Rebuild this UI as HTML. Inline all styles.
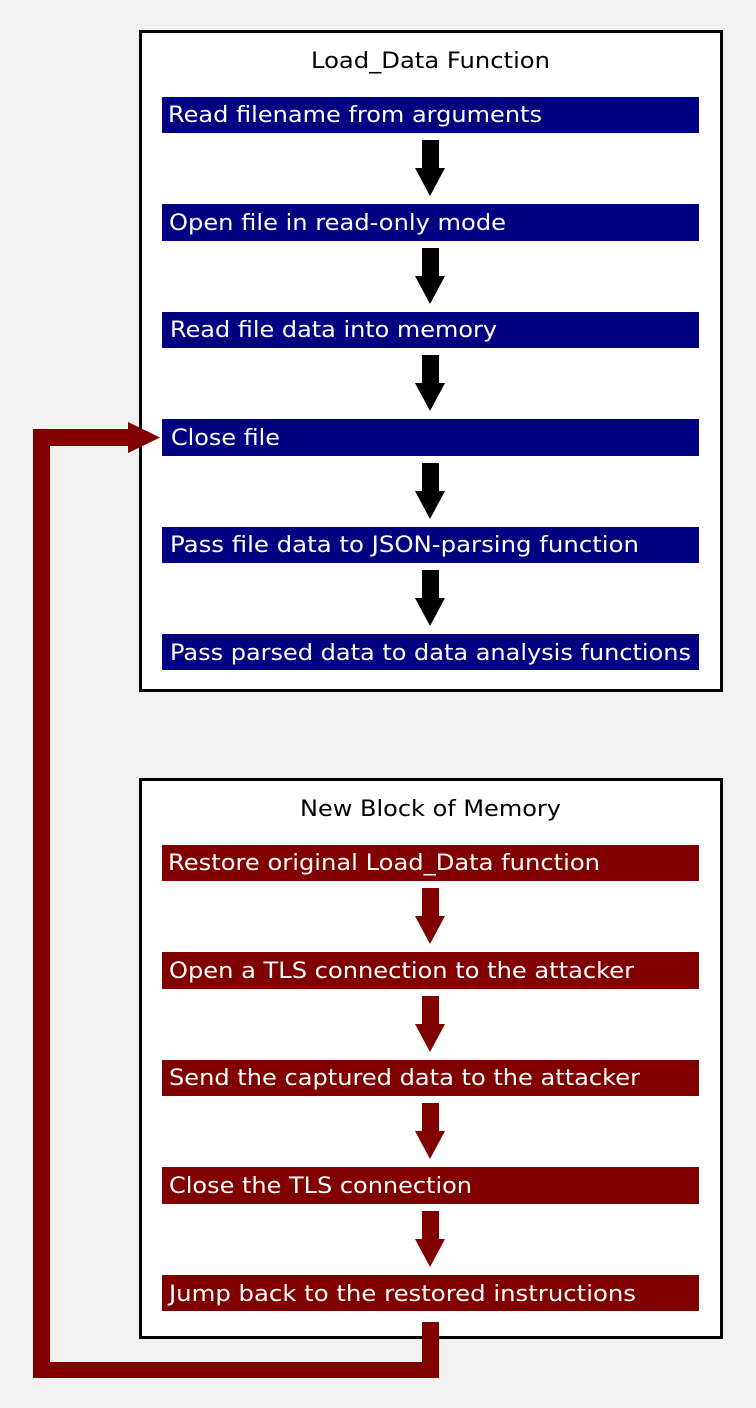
<!DOCTYPE html>
<html><head><style>body{margin:0;background:#f1f1f1}svg{display:block}</style></head><body>
<svg width="756" height="1408" xmlns="http://www.w3.org/2000/svg" font-family="'DejaVu Sans', sans-serif" font-size="22">
<rect width="756" height="1408" fill="#f1f1f1"/>
<rect x="140.5" y="31.5" width="581" height="659" fill="#fff" stroke="#000" stroke-width="3"/>
<rect x="140.5" y="779.5" width="581" height="558" fill="#fff" stroke="#000" stroke-width="3"/>
<text x="311" y="68" textLength="239" lengthAdjust="spacingAndGlyphs" fill="#000">Load_Data Function</text>
<text x="300" y="816" textLength="261" lengthAdjust="spacingAndGlyphs" fill="#000">New Block of Memory</text>
<g fill="#000080">
<rect x="162" y="97" width="537" height="36"/>
<rect x="162" y="204" width="537" height="37"/>
<rect x="162" y="312" width="537" height="36"/>
<rect x="162" y="419" width="537" height="37"/>
<rect x="162" y="527" width="537" height="36"/>
<rect x="162" y="634" width="537" height="36"/>
</g>
<g fill="#800000">
<rect x="162" y="845" width="537" height="36"/>
<rect x="162" y="952" width="537" height="37"/>
<rect x="162" y="1060" width="537" height="36"/>
<rect x="162" y="1167" width="537" height="37"/>
<rect x="162" y="1275" width="537" height="36"/>
</g>
<g fill="#fff" lengthAdjust="spacingAndGlyphs">
<text x="168" y="122" textLength="374" lengthAdjust="spacingAndGlyphs">Read filename from arguments</text>
<text x="169" y="230" textLength="337" lengthAdjust="spacingAndGlyphs">Open file in read-only mode</text>
<text x="170" y="337" textLength="327" lengthAdjust="spacingAndGlyphs">Read file data into memory</text>
<text x="171" y="445" textLength="109" lengthAdjust="spacingAndGlyphs">Close file</text>
<text x="170" y="552" textLength="469" lengthAdjust="spacingAndGlyphs">Pass file data to JSON-parsing function</text>
<text x="170" y="660" textLength="521" lengthAdjust="spacingAndGlyphs">Pass parsed data to data analysis functions</text>
<text x="168" y="870" textLength="432" lengthAdjust="spacingAndGlyphs">Restore original Load_Data function</text>
<text x="169" y="978" textLength="465" lengthAdjust="spacingAndGlyphs">Open a TLS connection to the attacker</text>
<text x="169" y="1085" textLength="471" lengthAdjust="spacingAndGlyphs">Send the captured data to the attacker</text>
<text x="169" y="1193" textLength="303" lengthAdjust="spacingAndGlyphs">Close the TLS connection</text>
<text x="169" y="1301" textLength="467" lengthAdjust="spacingAndGlyphs">Jump back to the restored instructions</text>
</g>
<g fill="#000">
<path id="a" d="M422 140H439V168H445L430 196L415 168H422Z"/>
<use href="#a" y="108"/><use href="#a" y="215"/><use href="#a" y="323"/><use href="#a" y="430"/>
</g>
<g fill="#800000">
<use href="#a" y="748"/><use href="#a" y="856"/><use href="#a" y="963"/><use href="#a" y="1071"/>
</g>
<g fill="#800000">
<rect x="33" y="429" width="17" height="949"/>
<rect x="33" y="429" width="97" height="17"/>
<path d="M128 422L160 437.5L128 453Z"/>
<rect x="33" y="1362" width="406" height="16"/>
<rect x="422" y="1322" width="17" height="56"/>
</g>
</svg>
</body></html>
